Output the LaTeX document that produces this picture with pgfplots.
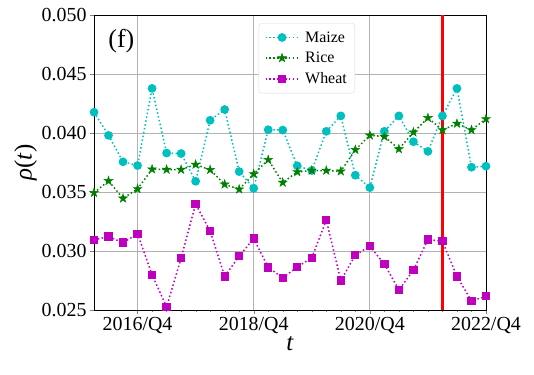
\documentclass[border=0pt]{standalone}
\usepackage{fontspec}
\setmainfont{Liberation Serif}
\usepackage{pgfplots}
\pgfplotsset{compat=1.18}

\definecolor{mplc}{rgb}{0,0.75,0.75}
\definecolor{mplg}{rgb}{0,0.5,0}
\definecolor{mplm}{rgb}{0.75,0,0.75}

% filled five-pointed star like matplotlib's '*'
\pgfdeclareplotmark{fstar}{%
  \pgfpathmoveto{\pgfqpointpolar{90}{\pgfplotmarksize}}%
  \pgfpathlineto{\pgfqpointpolar{126}{0.382\pgfplotmarksize}}%
  \pgfpathlineto{\pgfqpointpolar{162}{\pgfplotmarksize}}%
  \pgfpathlineto{\pgfqpointpolar{198}{0.382\pgfplotmarksize}}%
  \pgfpathlineto{\pgfqpointpolar{234}{\pgfplotmarksize}}%
  \pgfpathlineto{\pgfqpointpolar{270}{0.382\pgfplotmarksize}}%
  \pgfpathlineto{\pgfqpointpolar{306}{\pgfplotmarksize}}%
  \pgfpathlineto{\pgfqpointpolar{342}{0.382\pgfplotmarksize}}%
  \pgfpathlineto{\pgfqpointpolar{18}{\pgfplotmarksize}}%
  \pgfpathlineto{\pgfqpointpolar{54}{0.382\pgfplotmarksize}}%
  \pgfpathclose
  \pgfusepathqfillstroke}

% quarters indexed from 2016/Q1 = 0
\pgfplotstableread{
i maize rice wheat
0  0.04176 0.03494 0.03094
1  0.03980 0.03594 0.03122
2  0.03756 0.03446 0.03071
3  0.03724 0.03526 0.03145
4  0.04378 0.03693 0.02798
5  0.03830 0.03690 0.02526
6  0.03826 0.03690 0.02940
7  0.03591 0.03733 0.03398
8  0.04108 0.03688 0.03170
9  0.04199 0.03565 0.02784
10 0.03673 0.03523 0.02957
11 0.03531 0.03653 0.03105
12 0.04028 0.03773 0.02861
13 0.04025 0.03580 0.02773
14 0.03722 0.03670 0.02864
15 0.03682 0.03682 0.02943
16 0.04014 0.03682 0.03261
17 0.04145 0.03676 0.02750
18 0.03642 0.03858 0.02966
19 0.03537 0.03980 0.03040
20 0.04014 0.03970 0.02889
21 0.04145 0.03864 0.02670
22 0.03926 0.04006 0.02838
23 0.03844 0.04128 0.03097
24 0.04145 0.04026 0.03083
25 0.04378 0.04080 0.02784
26 0.03710 0.04026 0.02577
27 0.03719 0.04119 0.02616
}\rhodata

\begin{document}
\begin{tikzpicture}
\begin{axis}[
    scale only axis,
    width=392bp, height=295bp,
    xmin=0, xmax=27,
    ymin=0.025, ymax=0.050,
    xtick={3,11,19,27},
    xticklabels={2016/Q4,2018/Q4,2020/Q4,2022/Q4},
    minor x tick num=7,
    ytick={0.025,0.030,0.035,0.040,0.045,0.050},
    yticklabel style={/pgf/number format/fixed,/pgf/number format/fixed zerofill,/pgf/number format/precision=3},
    scaled y ticks=false,
    /pgf/number format/assume math mode=true,
    tick label style={font=\fontsize{20}{24}\selectfont},
    xtick pos=left, ytick pos=left,
    tick align=outside,
    major tick length=4bp, minor tick length=2.2bp,
    grid=major,
    major grid style={draw=black!30, line width=0.8bp},
    axis line style={line width=0.9bp},
    xlabel={\textit{t}},
    ylabel={\textit{ρ}(\textit{t})},
    label style={font=\fontsize{25}{28}\selectfont},
    xlabel style={yshift=4bp},
    ylabel style={yshift=-2bp},
    legend style={at={(0.42,0.972)}, anchor=north west,
        font=\fontsize{16}{18}\selectfont,
        draw=black!15, rounded corners=2.5bp, fill=white,
        row sep=4.5bp, column sep=4bp, inner xsep=6bp, inner ysep=6bp},
    legend cell align=left,
    legend image code/.code={
        \draw[mark repeat=2,mark phase=2,#1]
        plot coordinates {(0cm,0cm) (0.58cm,0cm) (1.16cm,0cm)};},
    every axis plot/.append style={line width=1.5bp, dash pattern=on 1.5bp off 2.4bp},
    clip=false,
]
\addplot[mplc, mark=*, mark size=3.6bp, mark options={solid}] table[x=i, y=maize] {\rhodata};
\addplot[mplg, mark=fstar, mark size=4.6bp, mark options={solid, fill=mplg, line width=0.5bp}] table[x=i, y=rice] {\rhodata};
\addplot[mplm, mark=square*, mark size=3.4bp, mark options={solid}] table[x=i, y=wheat] {\rhodata};
\legend{Maize, Rice, Wheat}
\addplot[red, line width=2.2bp, solid, forget plot] coordinates {(24,0.025) (24,0.050)};
\node[anchor=north west, font=\fontsize{26}{28}\selectfont] at (rel axis cs:0.028,0.965) {(f)};
\end{axis}
\path (current axis.south west) ++(-94bp,-65bp) rectangle ++(534bp,375bp);
\end{tikzpicture}
\end{document}
